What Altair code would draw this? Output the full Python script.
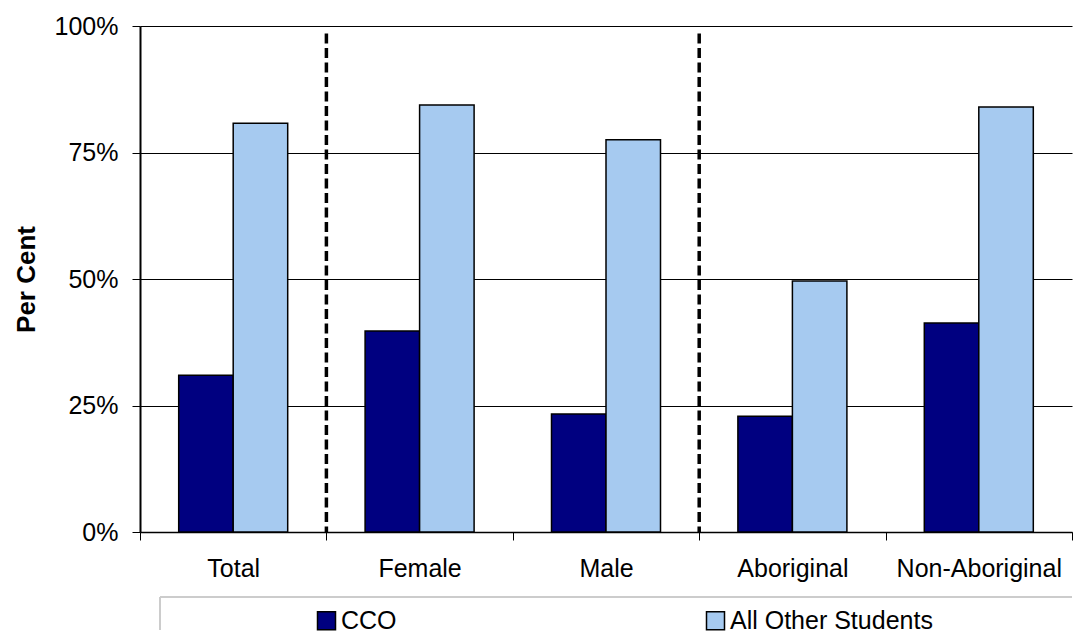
import altair as alt
import pandas as pd

categories = ["Total", "Female", "Male", "Aboriginal", "Non-Aboriginal"]
series = ["CCO", "All Other Students"]
cco = [0.310, 0.397, 0.233, 0.229, 0.413]
other = [0.808, 0.844, 0.775, 0.496, 0.840]
dividers = ["Female", "Aboriginal"]
y_ticks = [0, 0.25, 0.5, 0.75, 1.0]
colors = ["#000080", "#A6CAF0"]

rows = []
for c, a, b in zip(categories, cco, other):
    rows.append({"category": c, "series": series[0], "value": a})
    rows.append({"category": c, "series": series[1], "value": b})
df = pd.DataFrame(rows)
div_df = pd.DataFrame({"category": dividers, "top": [0.985] * len(dividers), "bottom": [0.0] * len(dividers)})

W, H = 932, 506
FONT = "Liberation Sans"

xscale = alt.Scale(domain=categories, paddingInner=0, paddingOuter=0)
yscale = alt.Scale(domain=[0, 1])

bars = alt.Chart(df).mark_bar(stroke="black", strokeWidth=1.5).encode(
    x=alt.X("category:N", scale=xscale, sort=categories,
            axis=alt.Axis(title=None, labelAngle=0, labelFontSize=25, labelFont=FONT,
                          labelColor="black", tickBand="extent", tickSize=8,
                          tickColor="black", domainColor="black", domainWidth=1.5,
                          labelPadding=16, grid=False)),
    xOffset=alt.XOffset("series:N", sort=series,
                        scale=alt.Scale(domain=series, paddingInner=0, paddingOuter=0.71)),
    y=alt.Y("value:Q", scale=yscale,
            axis=alt.Axis(title="Per Cent", values=y_ticks, format=".0%", labelFontSize=25,
                          labelFont=FONT, labelColor="black", tickSize=8, tickColor="black",
                          domainColor="black", domainWidth=2, labelPadding=14,
                          grid=True, gridColor="black", gridWidth=1,
                          titleFont=FONT, titleFontSize=26, titleFontWeight="bold",
                          titleColor="black", titlePadding=15)),
    color=alt.Color("series:N", sort=series,
                    scale=alt.Scale(domain=series, range=colors),
                    legend=alt.Legend(title=None, orient="none", direction="horizontal",
                                      legendX=174, legendY=582, padding=0,
                                      symbolType="square", symbolSize=324,
                                      symbolStrokeColor="black", symbolStrokeWidth=1.5,
                                      symbolOpacity=1, labelFontSize=25, labelFont=FONT,
                                      labelColor="black", labelOffset=2, labelLimit=400,
                                      columnPadding=306)),
)

div_rules = alt.Chart(div_df).mark_rule(color="black", strokeWidth=3.5, strokeDash=[10, 4.5]).encode(
    x=alt.X("category:N", scale=xscale, sort=categories, bandPosition=0),
    y=alt.Y("top:Q", scale=yscale),
    y2="bottom:Q",
)

box_top = alt.Chart(div_df).mark_rule(color="#cccccc", strokeWidth=2).encode(
    x=alt.value(20), x2=alt.value(W), y=alt.value(571)
)
box_left = alt.Chart(div_df).mark_rule(color="#cccccc", strokeWidth=2).encode(
    x=alt.value(20), y=alt.value(571), y2=alt.value(604)
)

chart = alt.layer(bars, div_rules, box_top, box_left).properties(
    width=W, height=H,
    padding={"left": 5, "top": 6, "right": 0, "bottom": 0},
).configure_view(stroke=None)

chart.save("out.html", embed_options={"renderer": "svg", "actions": False})
